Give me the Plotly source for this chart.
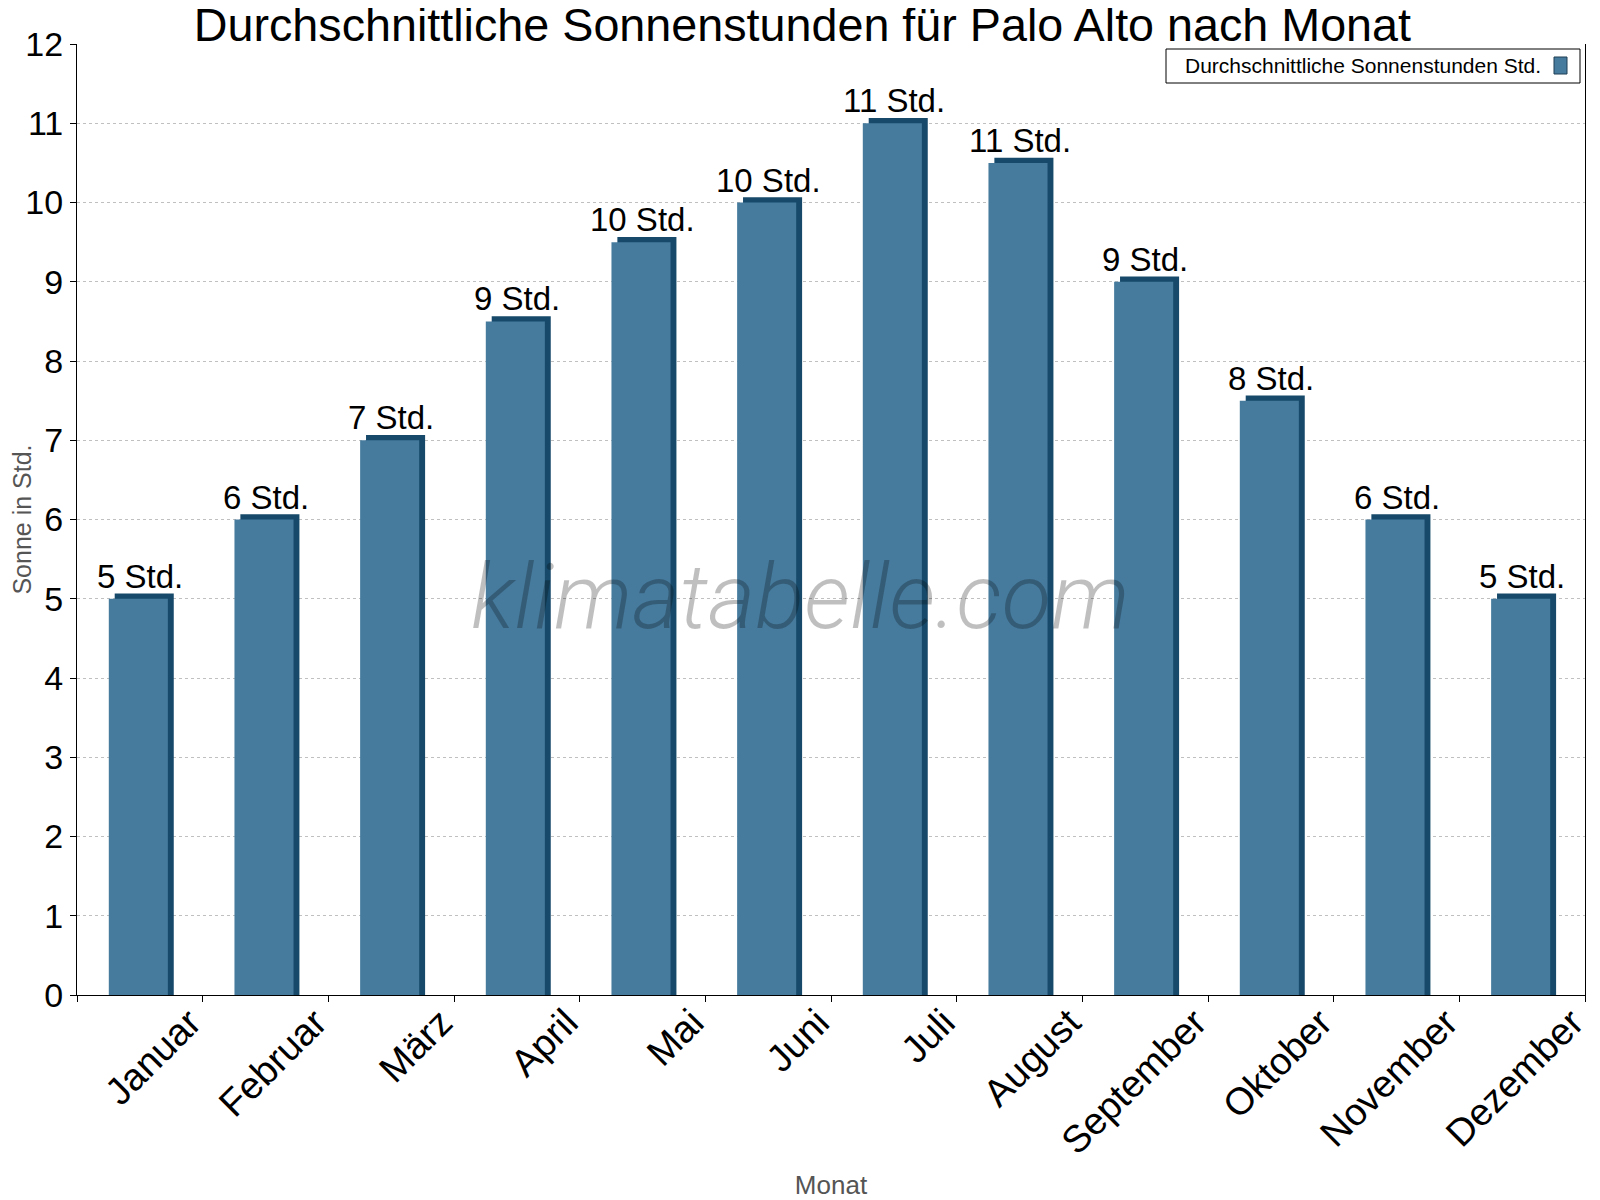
import plotly.graph_objects as go

months = ["Januar", "Februar", "März", "April", "Mai", "Juni",
          "Juli", "August", "September", "Oktober", "November", "Dezember"]
sun_hours = [5, 6, 7, 8.5, 9.5, 10, 11, 10.5, 9, 7.5, 6, 5]
bar_labels = ["5 Std.", "6 Std.", "7 Std.", "9 Std.", "10 Std.", "10 Std.",
              "11 Std.", "11 Std.", "9 Std.", "8 Std.", "6 Std.", "5 Std."]
y_ticks = list(range(0, 13))
series_name = "Durchschnittliche Sonnenstunden Std."

FRONT = "#467b9e"
SIDE = "#174a6a"
depth = 0.065  # kleiner 3D-Effekt (in Datenwerten)

# die HTML-Seite hat 8px Rand -> Figur entsprechend kleiner
W, H = 1592, 1192
L, R, T, B = 69, 15, 36, 205
pw, ph = W - L - R, H - T - B


def px_x(x):
    # Seitenkoordinate -> paper
    return (x - 8 - L) / pw


def px_y(y):
    return (H - B - (y - 8)) / ph


fig = go.Figure()

# Seitenfläche (dunkel), leicht nach rechts/oben versetzt
fig.add_trace(go.Bar(
    x=months, y=[v + depth for v in sun_hours],
    width=0.47, offset=-0.20,
    marker=dict(color=SIDE, line=dict(width=0)),
    showlegend=False, hoverinfo="skip",
))
# Vorderseite
fig.add_trace(go.Bar(
    x=months, y=sun_hours,
    width=0.47, offset=-0.247,
    marker=dict(color=FRONT, line=dict(width=0)),
    name=series_name, showlegend=False,
))

# Beschriftung über den Balken
for m, v, t in zip(months, sun_hours, bar_labels):
    fig.add_annotation(
        x=m, y=v, text=t, showarrow=False, yanchor="bottom", yshift=2,
        font=dict(size=33, color="black", family="Liberation Sans, Arial"),
    )

# Wasserzeichen
fig.add_annotation(
    text="<i>klimatabelle.com</i>", xref="paper", yref="paper",
    x=px_x(800), y=px_y(597), showarrow=False,
    font=dict(size=91, color="rgba(0,0,0,0.25)", family="Roboto", weight=300),
)

# Legende (Text links, Farbfeld rechts)
fig.add_shape(type="rect", xref="paper", yref="paper",
              x0=px_x(1166), x1=px_x(1580), y0=px_y(83), y1=px_y(49),
              line=dict(color="black", width=1), fillcolor="white", layer="above")
fig.add_shape(type="rect", xref="paper", yref="paper",
              x0=px_x(1554), x1=px_x(1567), y0=px_y(74), y1=px_y(57),
              line=dict(color="#1f3f55", width=1), fillcolor=FRONT, layer="above")
fig.add_annotation(
    text=series_name, xref="paper", yref="paper",
    x=px_x(1543), y=px_y(66), xanchor="right", yanchor="middle", showarrow=False,
    font=dict(size=21, color="black", family="Liberation Sans, Arial"),
)

fig.update_layout(
    width=W, height=H,
    barmode="overlay",
    plot_bgcolor="white", paper_bgcolor="white",
    margin=dict(l=L, r=R, t=T, b=B),
    font=dict(family="Liberation Sans, Arial", color="black"),
    title=dict(text="Durchschnittliche Sonnenstunden für Palo Alto nach Monat",
               x=0.499, xanchor="center", y=0.9857, yanchor="middle",
               font=dict(size=46.7, color="black")),
    showlegend=False,
    xaxis=dict(
        tickangle=-45, tickfont=dict(size=38),
        ticklabelshift=50, ticklabelstandoff=-11,
        showline=True, linecolor="black", linewidth=1,
        ticks="outside", tickson="boundaries", ticklen=6, tickcolor="black",
        showgrid=False, automargin=False,
        title=dict(text="Monat", font=dict(size=26, color="#555555"), standoff=26),
    ),
    yaxis=dict(
        range=[0, 12], tickvals=y_ticks, tickfont=dict(size=34),
        showline=True, linecolor="black", linewidth=1, mirror=True,
        ticks="outside", ticklen=6, tickcolor="black",
        showgrid=True, gridcolor="#c0c0c0", griddash="dot", gridwidth=1,
        zeroline=False, automargin=False,
        title=dict(text="Sonne in Std.", font=dict(size=25, color="#555555"), standoff=6),
    ),
)

fig.write_html("out.html")
